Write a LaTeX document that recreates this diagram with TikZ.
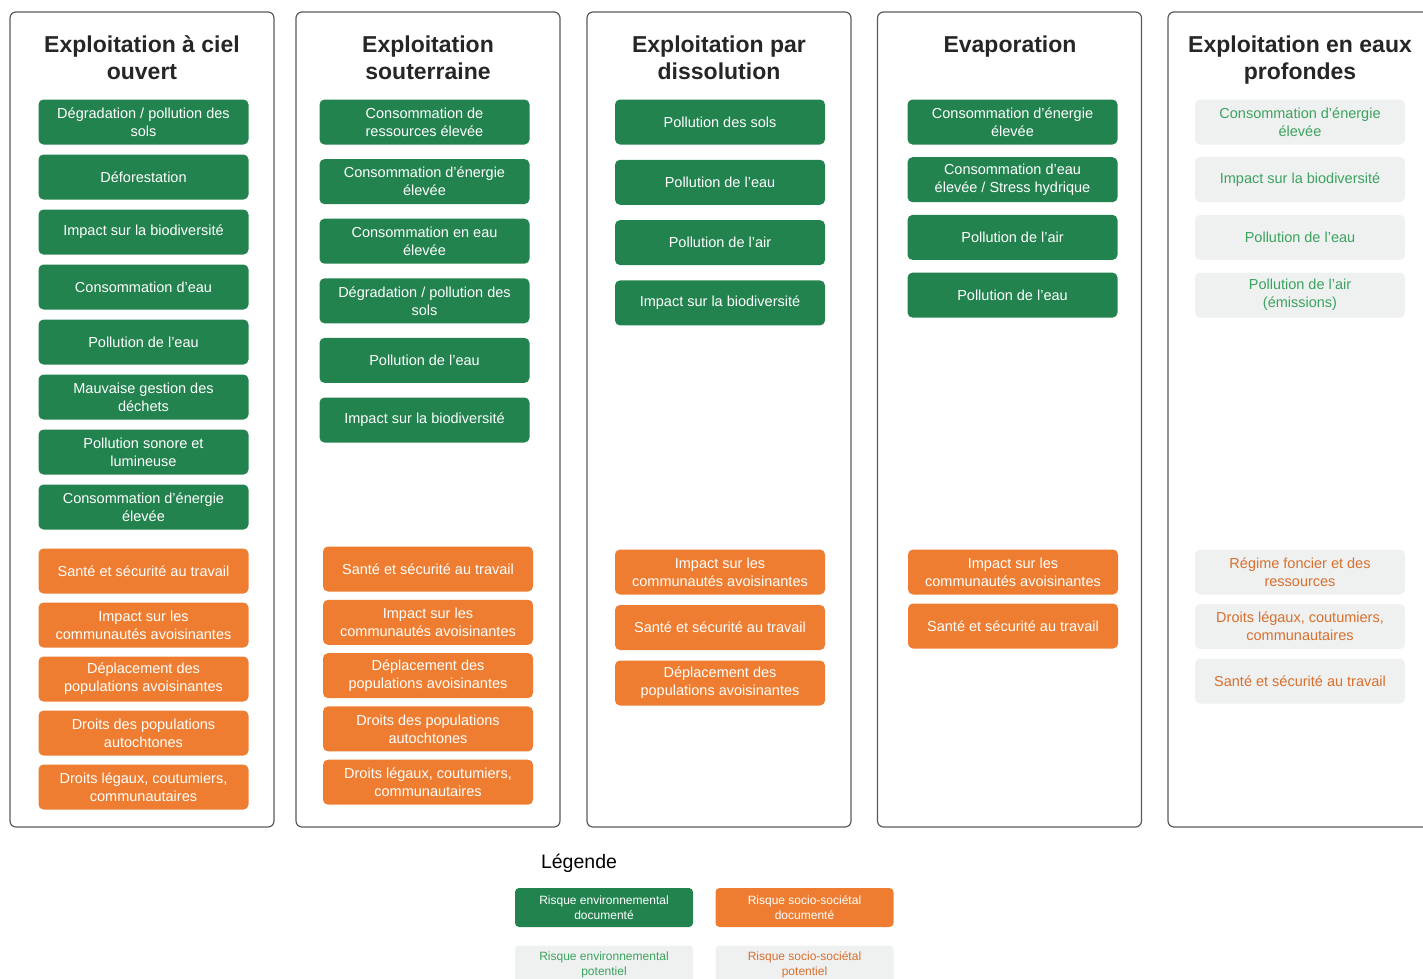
\documentclass[tikz,border=0pt]{standalone}
\usepackage{fontspec}
\setmainfont{Liberation Sans}

\definecolor{vertdoc}{HTML}{23834F}
\definecolor{orangedoc}{HTML}{EE7D31}
\definecolor{grispot}{HTML}{EFF0F0}
\definecolor{vertpot}{HTML}{3BA35F}
\definecolor{orangepot}{HTML}{D8702E}
\definecolor{bord}{HTML}{5A5A5A}

\tikzset{
  panneau/.style={draw=bord, line width=1.2pt, rounded corners=6pt, minimum width=264pt, minimum height=815pt, inner sep=0pt},
  titre/.style={font=\bfseries\fontsize{23}{27}\selectfont, text=black!85, align=center},
  risque/.style={rounded corners=5pt, minimum width=210pt, minimum height=45pt, align=center, inner sep=2pt, font=\fontsize{14.5}{18}\selectfont},
  envdoc/.style={risque, fill=vertdoc, text=white},
  socdoc/.style={risque, fill=orangedoc, text=white},
  envpot/.style={risque, fill=grispot, text=vertpot},
  socpot/.style={risque, fill=grispot, text=orangepot},
  legbox/.style={rounded corners=4pt, minimum width=178pt, minimum height=39pt, align=center, inner sep=1pt, font=\fontsize{12}{15}\selectfont},
}

\begin{document}
\begin{tikzpicture}[x=1pt, y=-1pt]
\useasboundingbox (0,0) rectangle (1423,978);

% les cinq panneaux
\node[panneau] (p1) at (142,419.5) {};
\node[panneau] (p2) at (428,419.5) {};
\node[panneau] (p3) at (719,419.5) {};
\node[panneau] (p4) at (1009.5,419.5) {};
\node[panneau] (p5) at (1300,419.5) {};

% titres
\node[titre] (t1) at (142,57.5) {Exploitation à ciel\\ouvert};
\node[titre] (t2) at (428,57.5) {Exploitation\\souterraine};
\node[titre] (t3) at (719,57.5) {Exploitation par\\dissolution};
\node[titre] (t4) at (1010,47) {Evaporation};
\node[titre] (t5) at (1300,60.5) {Exploitation en eaux\\profondes};

% colonne 1 : ciel ouvert
\foreach \txt [count=\i] in {{Dégradation / pollution des\\sols}, Déforestation, {Impact sur la biodiversité},
    {Consommation d'eau}, {Pollution de l'eau}, {Mauvaise gestion des\\déchets},
    {Pollution sonore et\\lumineuse}, {Consommation d'énergie\\élevée}}
  \node[envdoc] (ca\i) at (143.5,{122+55*(\i-1)}) {\txt};
\foreach \txt [count=\i] in {{Santé et sécurité au travail}, {Impact sur les\\communautés avoisinantes},
    {Déplacement des\\populations avoisinantes}, {Droits des populations\\autochtones},
    {Droits légaux, coutumiers,\\communautaires}}
  \node[socdoc] (sa\i) at (143.5,{571+54*(\i-1)}) {\txt};

% colonne 2 : souterraine
\foreach \txt [count=\i] in {{Consommation de\\ressources élevée}, {Consommation d'énergie\\élevée},
    {Consommation en eau\\élevée}, {Dégradation / pollution des\\sols}, {Pollution de l'eau},
    {Impact sur la biodiversité}}
  \node[envdoc] (cb\i) at (424.5,{122+59.6*(\i-1)}) {\txt};
\foreach \txt [count=\i] in {{Santé et sécurité au travail}, {Impact sur les\\communautés avoisinantes},
    {Déplacement des\\populations avoisinantes}, {Droits des populations\\autochtones},
    {Droits légaux, coutumiers,\\communautaires}}
  \node[socdoc] (sb\i) at (428,{569+53.3*(\i-1)}) {\txt};

% colonne 3 : dissolution
\foreach \txt [count=\i] in {{Pollution des sols}, {Pollution de l'eau}, {Pollution de l'air},
    {Impact sur la biodiversité}}
  \node[envdoc] (cc\i) at (720,{122+60.3*(\i-1)}) {\txt};
\foreach \txt [count=\i] in {{Impact sur les\\communautés avoisinantes}, {Santé et sécurité au travail},
    {Déplacement des\\populations avoisinantes}}
  \node[socdoc] (sc\i) at (720,{572+55.5*(\i-1)}) {\txt};

% colonne 4 : evaporation
\foreach \txt [count=\i] in {{Consommation d'énergie\\élevée}, {Consommation d'eau\\élevée / Stress hydrique},
    {Pollution de l'air}, {Pollution de l'eau}}
  \node[envdoc] (cd\i) at (1012.5,{122+57.7*(\i-1)}) {\txt};
\foreach \txt [count=\i] in {{Impact sur les\\communautés avoisinantes}, {Santé et sécurité au travail}}
  \node[socdoc] (sd\i) at (1013,{572+54*(\i-1)}) {\txt};

% colonne 5 : eaux profondes (risques potentiels)
\foreach \txt [count=\i] in {{Consommation d'énergie\\élevée}, {Impact sur la biodiversité},
    {Pollution de l'eau}, {Pollution de l'air\\(émissions)}}
  \node[envpot] (ce\i) at (1300,{122+57.7*(\i-1)}) {\txt};
\foreach \txt [count=\i] in {{Régime foncier et des\\ressources}, {Droits légaux, coutumiers,\\communautaires},
    {Santé et sécurité au travail}}
  \node[socpot] (se\i) at (1300,{572+54.5*(\i-1)}) {\txt};

% légende
\node[font=\fontsize{19.5}{24}\selectfont] (leg) at (579,863) {Légende};
\node[legbox, fill=vertdoc, text=white] (leg1) at (604,907.5) {Risque environnemental\\documenté};
\node[legbox, fill=orangedoc, text=white] (leg2) at (804.5,907.5) {Risque socio-sociétal\\documenté};
\node[legbox, fill=grispot, text=vertpot] (leg3) at (604,965) {Risque environnemental\\potentiel};
\node[legbox, fill=grispot, text=orangepot] (leg4) at (804.5,965) {Risque socio-sociétal\\potentiel};
\end{tikzpicture}
\end{document}
